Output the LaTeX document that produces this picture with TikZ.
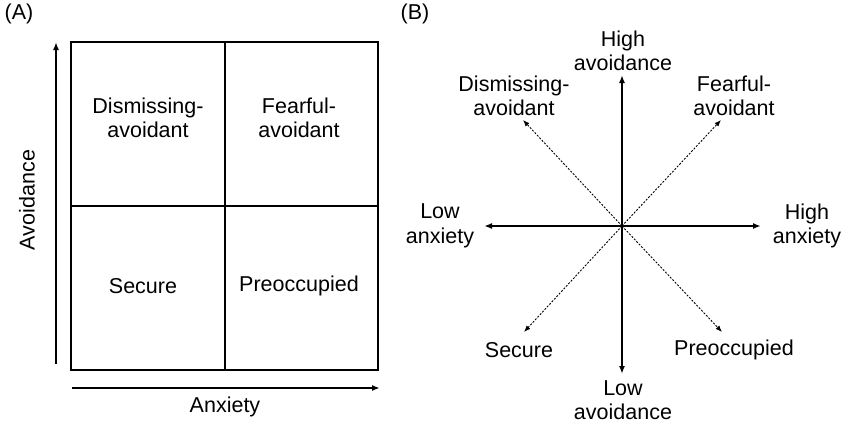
\documentclass[tikz,border=0pt]{standalone}
\usepackage{fontspec}
\setmainfont{Liberation Sans}
\usetikzlibrary{arrows.meta}
\begin{document}
\begin{tikzpicture}[x=1pt,y=-1pt,
  lbl/.style={font=\fontsize{21.5}{24.5}\selectfont, align=center, inner sep=0pt},
  axis/.style={line width=2.2pt, -{Latex[length=8pt,width=6pt]}},
  gridline/.style={line width=2.2pt},
  diag/.style={line width=0.9pt, dash pattern=on 2pt off 1.5pt, -{Latex[length=6.5pt,width=5pt]}}]
\useasboundingbox (0,0) rectangle (847,426);
% ---------- Panel A ----------
\node[lbl] (labA) at (19,14) {(A)};
\coordinate (tl) at (71,42);
\coordinate (br) at (378,370);
\coordinate (mt) at (225,42);
\coordinate (mb) at (225,370);
\coordinate (ml) at (71,206);
\coordinate (mr) at (378,206);
\draw[gridline] (tl) rectangle (br);
\draw[gridline] (mt) -- (mb);
\draw[gridline] (ml) -- (mr);
\coordinate (va0) at (56,364);
\coordinate (va1) at (56,42);
\draw[axis] (va0) -- (va1);
\coordinate (ha0) at (72,388);
\coordinate (ha1) at (380,388);
\draw[axis] (ha0) -- (ha1);
\node[lbl] (anx) at (225,407) {Anxiety};
\node[lbl, rotate=90] (avo) at (27,200) {Avoidance};
\node[lbl] (dism) at (148,118) {Dismissing-\\avoidant};
\node[lbl] (fear) at (299,118) {Fearful-\\avoidant};
\node[lbl] (sec) at (143,286) {Secure};
\node[lbl] (pre) at (299,286) {Preoccupied};
% ---------- Panel B ----------
\node[lbl] (labB) at (415,14) {(B)};
\coordinate (c) at (622,226);
\coordinate (E) at (761,226);
\coordinate (W) at (484,226);
\coordinate (N) at (622,75);
\coordinate (S) at (622,374);
\draw[axis] (c) -- (E);
\draw[axis] (c) -- (W);
\draw[axis] (c) -- (N);
\draw[axis] (c) -- (S);
\coordinate (NW) at (523,120);
\coordinate (NE) at (721,120);
\coordinate (SW) at (524,332);
\coordinate (SE) at (722,332);
\draw[diag] (c) -- (NW);
\draw[diag] (c) -- (NE);
\draw[diag] (c) -- (SW);
\draw[diag] (c) -- (SE);
\node[lbl] (hav) at (623,51) {High\\avoidance};
\node[lbl] (lav) at (623,400) {Low\\avoidance};
\node[lbl] (lan) at (440,226) {Low\\anxiety};
\node[lbl] (han) at (807,226) {High\\anxiety};
\node[lbl] (bdism) at (514,96) {Dismissing-\\avoidant};
\node[lbl] (bfear) at (734,96) {Fearful-\\avoidant};
\node[lbl] (bsec) at (519,350) {Secure};
\node[lbl] (bpre) at (734,350) {Preoccupied};
\end{tikzpicture}
\end{document}
